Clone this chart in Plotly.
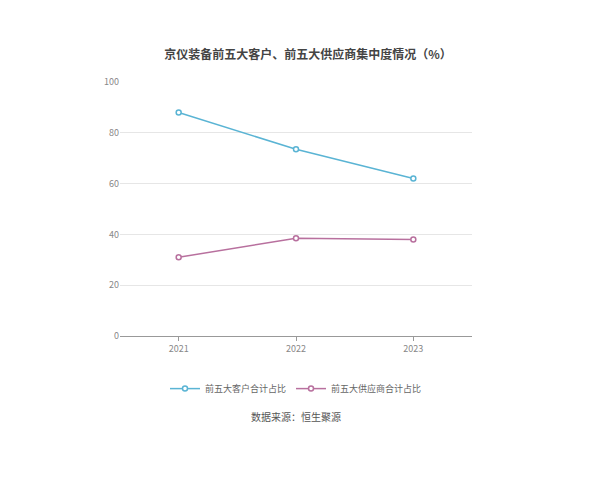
import plotly.graph_objects as go

years = ["2021", "2022", "2023"]
customers = [88, 73.5, 62]
suppliers = [31, 38.5, 38]
tick_vals = [0, 20, 40, 60, 80, 100]

font = "Noto Sans CJK SC"

fig = go.Figure()
fig.add_trace(go.Scatter(x=years, y=customers, name="前五大客户合计占比", mode="lines+markers",
                         line=dict(color="#5ab4d4", width=1.5),
                         marker=dict(size=5, color="white", line=dict(color="#5ab4d4", width=1.5))))
fig.add_trace(go.Scatter(x=years, y=suppliers, name="前五大供应商合计占比", mode="lines+markers",
                         line=dict(color="#b8709e", width=1.5),
                         marker=dict(size=5, color="white", line=dict(color="#b8709e", width=1.5))))

fig.update_layout(
    width=600, height=480,
    paper_bgcolor="white", plot_bgcolor="white",
    font=dict(family=font, size=9, color="#888"),
    title=dict(text="<b>京仪装备前五大客户、前五大供应商集中度情况（%）</b>", x=0.5, y=0.902,
               xanchor="center", yanchor="middle", font=dict(size=12, color="#444", family=font)),
    margin=dict(l=112, r=136, t=74, b=152),
    showlegend=True,
    legend=dict(orientation="h", x=0.5, xanchor="center", y=-0.15, yanchor="top",
                font=dict(size=9, color="#666")),
    xaxis=dict(showline=True, linecolor="#999", ticks="outside", tickcolor="#999",
               ticklen=4, showgrid=False, range=[-0.5, 2.5]),
    yaxis=dict(range=[0, 100], tickvals=tick_vals, gridcolor="#e6e6e6",
               zeroline=False, showline=False),
    annotations=[dict(text="数据来源：恒生聚源", x=0.5, y=-0.355, xref="paper", yref="paper",
                      showarrow=False, font=dict(size=10, color="#555"))],
)

fig.write_html("out.html")
